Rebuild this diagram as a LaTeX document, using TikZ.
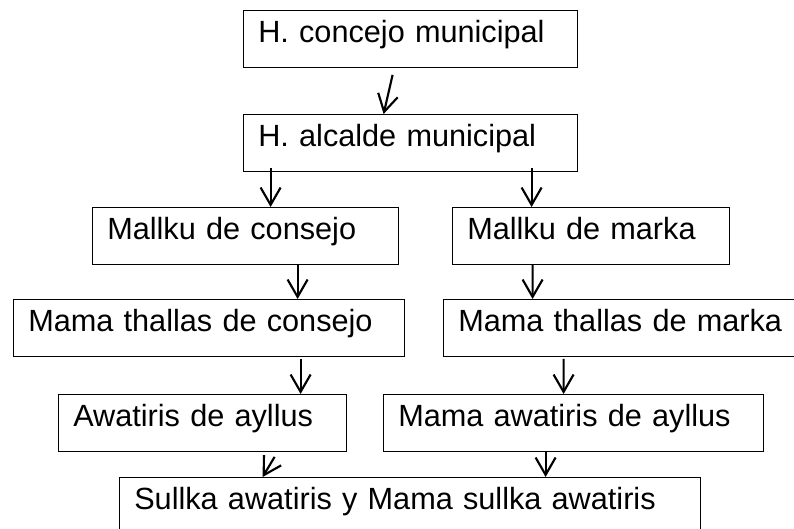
\documentclass[tikz,border=0pt]{standalone}
\usepackage{fontspec}
\setmainfont{Liberation Sans}
\usetikzlibrary{calc}
\usetikzlibrary{arrows.meta}

\begin{document}
\begin{tikzpicture}[x = 0.75pt, y = -0.75pt, line width = 0.9pt,
    caja/.style = {draw, anchor = north west, inner xsep = 11pt, inner ysep = 0pt,
        text height = 24pt, text depth = 18.5pt, align = left,
        font = \fontsize{23}{28}\selectfont},
    flecha/.style = {-{Straight Barb[length = 13pt, width = 15pt]}, line width = 1.6pt}]

    \useasboundingbox (0,0) rectangle (794,529);

    % cajas
    \node (concejo)  at (243,10)  [caja, text width = 228.5pt] {H. concejo municipal};
    \node (alcalde)  at (243,114) [caja, text width = 228.5pt] {H. alcalde municipal};

    \node (mallkuc)  at (92,207)  [caja, text width = 207.5pt] {Mallku de consejo};
    \node (mallkum)  at (452,207) [caja, text width = 185.75pt] {Mallku de marka};

    \node (thallasc) at (13,299)  [caja, text width = 271.25pt] {Mama thallas de consejo};
    \node (thallasm) at (443,299) [caja, text width = 270pt] {Mama thallas de marka};

    \node (awatc)    at (58,394)  [caja, text width = 194pt] {Awatiris de ayllus};
    \node (awatm)    at (383,394) [caja, text width = 263pt] {Mama awatiris de ayllus};

    \node (sullka)   at (119,477) [caja, text width = 413.75pt] {Sullka awatiris y Mama sullka awatiris};

    % flechas
    \draw[flecha] ($(concejo.south)+(-18,7)$) -- ($(alcalde.north)+(-27,0)$);

    \draw[flecha] ($(alcalde.south)+(-140,-4)$) -- ($(mallkuc.north)+(25,0)$);
    \draw[flecha] ($(alcalde.south)+(121,-4)$) -- ($(mallkum.north)+(-59.5,0)$);

    \draw[flecha] ($(mallkuc.south)+(52,0)$) -- ($(thallasc.north)+(88.5,0)$);
    \draw[flecha] ($(mallkum.south)+(-58.5,0)$) -- ($(thallasm.north)+(-105.7,0)$);

    \draw[flecha] ($(thallasc.south)+(91.5,2)$) -- ($(awatc.north)+(98,0)$);
    \draw[flecha] ($(thallasm.south)+(-74.7,2)$) -- ($(awatm.north)+(-10,0)$);

    \draw[flecha] ($(awatc.south)+(72,5)$) -- ($(sullka.north)+(-147.5,0)$);
    \draw[flecha] ($(awatm.south)+(-28,0)$) -- ($(sullka.north)+(135.5,0)$);

\end{tikzpicture}
\end{document}
